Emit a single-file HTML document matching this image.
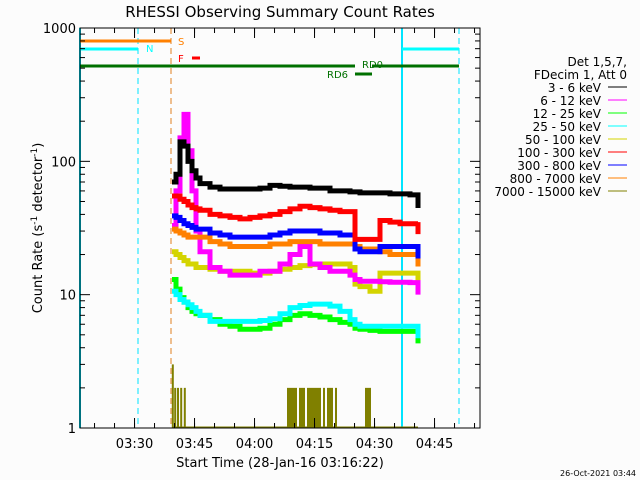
<!DOCTYPE html>
<html><head><meta charset="utf-8"><style>
body{margin:0;background:#fcfcfc;}
svg{display:block;font-family:"DejaVu Sans","Liberation Sans",sans-serif;}
</style></head><body>
<svg id="chart" width="640" height="480" viewBox="0 0 640 480">
<rect width="640" height="480" fill="#fcfcfc"/>
<text x="280" y="17" font-size="15" text-anchor="middle" fill="#000">RHESSI Observing Summary Count Rates</text>
<g id="marks"></g>
<g id="axes"></g>
<text transform="translate(42,228) rotate(-90)" font-size="13" text-anchor="middle">Count Rate (s<tspan dy="-5" font-size="9">-1</tspan><tspan dy="5"> detector</tspan><tspan dy="-5" font-size="9">-1</tspan><tspan dy="5">)</tspan></text>
<text x="280" y="467" font-size="13" text-anchor="middle">Start Time (28-Jan-16 03:16:22)</text>
<text x="636" y="476" font-size="8" text-anchor="end">26-Oct-2021 03:44</text>
<g id="legend" font-size="12"></g>
</svg>
<script>
// time in minutes from 03:16:22
const times = [23,24,25,26,27,28,29,30,32.5,35,37.5,40,42.5,45,47.5,50,52.5,55,57.5,60,62.5,65,67.5,68.75,70,72.5,75,77.5,80,82.5,84.5];
const black   = [70,80,140,130,100,85,75,68,64,62,62,62,62,63,66,65,64,64,63,63,60,60,59,59,58,58,58,57,57,56,55];
const red     = [55,55,52,50,47,45,44,43,40,39,38,37,38,39,40,42,44,46,45,44,43,42,42,26,26,26,36,35,34,34,35];
const blue    = [39,38,36,34,33,32,31,31,29,28,27,27,27,27,28,29,30,30,30,29,29,28,28,22,21,21,23,23,23,23,23];
const orange  = [31,30,29,28,27,27,27,27,25,24,23,23,23,23,24,24,25,25,25,24,24,24,24,23,22,22,21,20,20,20,20];
const magenta = [33,60,150,225,120,60,30,21,16,15,14,14,14,15,15,17,20,23,17,16,15,15,14,13,12.6,12.6,12.5,12.4,12.4,12.3,12.3];
const yellow  = [21,20,19,18,17,17,16,16,15.5,15,15,15,14.5,14.5,15,15.5,16,16.5,16.8,17,17,17,16,12,11.5,10.6,14.5,14.5,14.5,14.5,14.5];
const cyan    = [10.6,10,9.2,8.8,8.4,8,7.5,7,6.3,6.3,6.3,6.3,6.3,6.4,6.6,7.2,8,8.3,8.5,8.5,8.2,7.5,6.5,6,5.8,5.8,5.8,5.8,5.8,5.8,5.8];
const green   = [13,11,9.5,8.8,8,7.5,7.2,7,6.5,6,5.8,5.5,5.5,5.6,6,6.5,7,7.2,7,6.8,6.5,6.2,6,5.6,5.5,5.4,5.3,5.3,5.3,5.3,5.3];
// olive (7000-15000 keV) spikes: minutes and heights
const oliveTimes = [23.2,23.8,24.5,25.3,26.2,52,52.5,53,53.5,54,55,55.5,56,57,57.5,58,58.5,59,59.5,60,61,62,62.5,63,64,71.5,72,72.5];
const oliveVals  = [3,2,2,2,2,2,2,2,2,2,2,2,2,2,2,2,2,2,2,2,2,2,2,2,2,2,2,2];
const xTickLabels = ["03:30","03:45","04:00","04:15","04:30","04:45"];
const xTickMins = [13.633,28.633,43.633,58.633,73.633,88.633];
const yTickVals = [1,10,100,1000];

const NS="http://www.w3.org/2000/svg";
const X0=80,X1=480,Y0=428,DEC=133.33,TMAX=100;
function xs(t){return X0+t*(X1-X0)/TMAX;}
function ys(v){return Y0-Math.log10(v)*DEC;}
function el(tag,attrs,parent){const e=document.createElementNS(NS,tag);for(const k in attrs)e.setAttribute(k,attrs[k]);parent.appendChild(e);return e;}
const marks=document.getElementById('marks'),axes=document.getElementById('axes'),legend=document.getElementById('legend');

// vertical reference lines
[[80,'#00e5ff',false],[402,'#00e5ff',false],[138,'#00e5ff',true],[459,'#00e5ff',true],[171,'#e08020',true]].forEach(([x,c,d])=>{
  const l=el('line',{x1:x,x2:x,y1:28,y2:428,stroke:c,'stroke-width':d?1:2,'stroke-dasharray':d?'6,4':'none'},marks);
  
  
});
// annotation bars
[[80,171,41,'#ff8000'],[80,138,49,'#00ffff'],[402,459,49,'#00ffff'],[192,200,58,'#ff0000'],[80,355,66,'#007000'],[372,459,66,'#007000'],[355,372,74,'#007000']].forEach(([a,b,y,c])=>{
  const l=el('line',{x1:a,x2:b,y1:y,y2:y,stroke:c,'stroke-width':3},marks);
  
  
});
[['S',178,45,'#ff8000'],['N',146,52,'#00ffff'],['F',178,62,'#ff0000'],['RD0',362,68,'#007000'],['RD6',327,78,'#007000']].forEach(([t,x,y,c])=>{
  const e=el('text',{x:x,y:y,fill:c,'font-size':10},marks);e.textContent=t;
  
  
});

// olive spikes
oliveTimes.forEach((t,i)=>{
  const b=el('rect',{x:xs(t)-1,y:ys(oliveVals[i]),width:2,height:Y0-ys(oliveVals[i]),fill:'#808000'},marks);
  
  
});
el('line',{x1:xs(23),x2:xs(84.5),y1:Y0-1,y2:Y0-1,stroke:'#808000','stroke-width':1},marks);

const series=[['green',green,'#00ff00'],['cyan',cyan,'#00ffff'],['yellow',yellow,'#d4d400'],['magenta',magenta,'#ff00ff'],['orange',orange,'#ff8000'],['blue',blue,'#0000ff'],['red',red,'#ff0000'],['black',black,'#000000']];
series.forEach(([n,vals,c])=>{
  let d='';
  vals.forEach((v,i)=>{const x=xs(times[i]),y=ys(v);if(i===0)d+='M'+x+','+y;else d+='H'+x+'V'+y;});
  d+='V'+(ys(vals[vals.length-1])+12);
  const p=el('path',{d:d,fill:'none',stroke:c,'stroke-width':5,'stroke-linejoin':'miter'},marks);
  
  
});

// axes box
el('rect',{x:80,y:28,width:400,height:400,fill:'none',stroke:'#000','stroke-width':1},axes);
// y ticks
yTickVals.forEach(v=>{
  const y=ys(v);
  el('line',{x1:80,x2:90,y1:y,y2:y,stroke:'#000'},axes);
  el('line',{x1:470,x2:480,y1:y,y2:y,stroke:'#000'},axes);
  const t=el('text',{x:76,y:y+5,'font-size':13,'text-anchor':'end'},axes);t.textContent=String(v);
  
  
  if(v<1000)for(let m=2;m<10;m++){const ym=ys(v*m);el('line',{x1:80,x2:85,y1:ym,y2:ym,stroke:'#000'},axes);el('line',{x1:475,x2:480,y1:ym,y2:ym,stroke:'#000'},axes);}
});
// x ticks
for(let m=-1.367;m<=TMAX;m+=5){const x=xs(m);if(x<80)continue;el('line',{x1:x,x2:x,y1:428,y2:423,stroke:'#000'},axes);el('line',{x1:x,x2:x,y1:28,y2:33,stroke:'#000'},axes);}
xTickMins.forEach((m,i)=>{
  const x=xs(m);
  el('line',{x1:x,x2:x,y1:428,y2:418,stroke:'#000'},axes);el('line',{x1:x,x2:x,y1:28,y2:38,stroke:'#000'},axes);
  const t=el('text',{x:x,y:448,'font-size':13,'text-anchor':'middle'},axes);t.textContent=xTickLabels[i];
  
  
});
// legend
const legLabels=['3 - 6 keV','6 - 12 keV','12 - 25 keV','25 - 50 keV','50 - 100 keV','100 - 300 keV','300 - 800 keV','800 - 7000 keV','7000 - 15000 keV'];
const legColors=['#000000','#ff00ff','#00ff00','#00ffff','#d4d400','#ff0000','#0000ff','#ff8000','#808000'];
[['Det 1,5,7,',66],['FDecim 1, Att 0',79]].forEach(([s,y])=>{const t=el('text',{x:627,y:y,'text-anchor':'end'},legend);t.textContent=s;
  
  });
legLabels.forEach((s,i)=>{
  const y=92+i*13;
  const t=el('text',{x:601,y:y,'text-anchor':'end'},legend);t.textContent=s;
  
  
  el('line',{x1:608,x2:627,y1:y-5,y2:y-5,stroke:legColors[i],'stroke-width':1},legend);
});
</script>
</body></html>
